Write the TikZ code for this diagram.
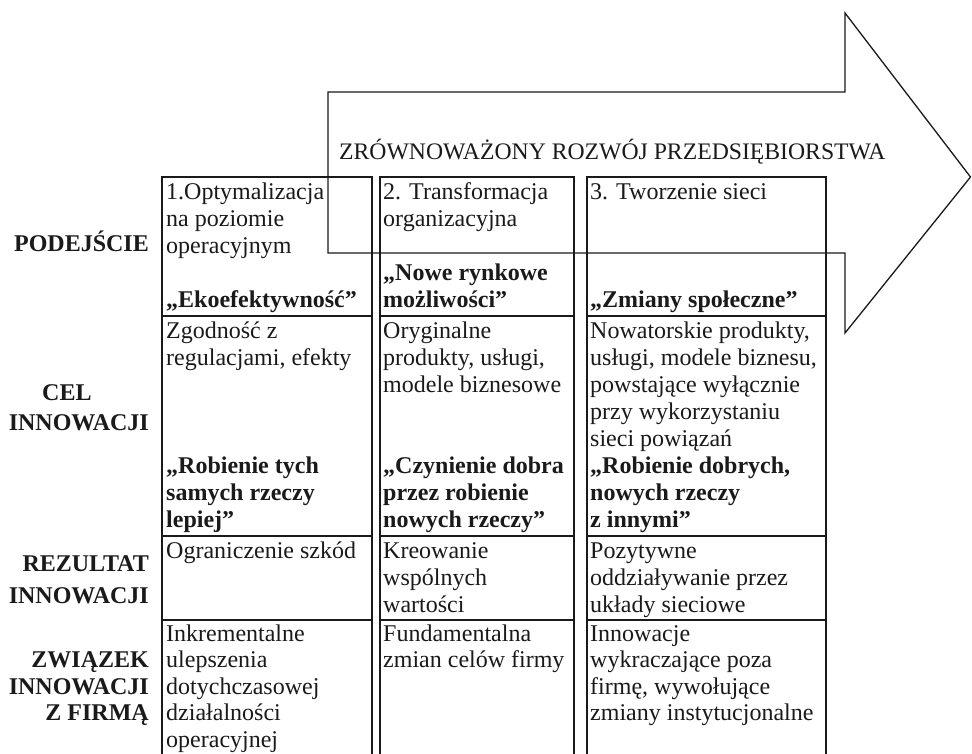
\documentclass[tikz,border=0pt]{standalone}
\usepackage{fontspec}
\setmainfont{Liberation Serif}
\newcommand{\bodyfnt}{\fontsize{24}{27}\selectfont}
\newcommand{\lastfnt}{\fontsize{24}{26.5}\selectfont}
\newcommand{\titlefnt}{\fontsize{23.7}{27}\selectfont}
\newcommand{\tstrut}{\rule{0pt}{24pt}}
\definecolor{ink}{HTML}{1A1A1A}
\begin{document}
\begin{tikzpicture}[x=1pt,y=-1pt,
  boxline/.style={line width=2.2pt, draw=ink},
  arrowline/.style={line width=1.3pt, draw=ink, line join=miter},
  cell/.style={anchor=north west, inner sep=0pt, align=left, font=\bodyfnt, text=ink},
  onecell/.style={anchor=base west, inner sep=0pt, font=\bodyfnt, text=ink},
  bcell/.style={cell, font=\bodyfnt\bfseries},
  bonecell/.style={onecell, font=\bodyfnt\bfseries},
  rowlabel/.style={anchor=base east, inner sep=0pt, font=\bodyfnt\bfseries, text=ink}]
\useasboundingbox (0,0) rectangle (972,753);
\fill[white] (0,0) rectangle (972,753);
% table columns
\foreach \xa/\xb in {162/372, 380/574, 587/826}{
  \draw[boxline] (\xa,770) -- (\xa,177) -- (\xb,177) -- (\xb,770);
  \draw[boxline] (\xa,316) -- (\xb,316);
  \draw[boxline] (\xa,536) -- (\xb,536);
  \draw[boxline] (\xa,620) -- (\xb,620);
}
% arrow
\draw[arrowline] (328,253) -- (328,92) -- (845,92) -- (845,13) -- (970.5,177) -- (845,333) -- (845,253) -- cycle;
\node[anchor=base west, inner sep=0pt, font=\titlefnt, text=ink] (title) at (339,159.3) {ZRÓWNOWAŻONY ROZWÓJ PRZEDSIĘBIORSTWA};
% row labels
\node[rowlabel] (l1) at (149,251) {PODEJŚCIE};
\node[anchor=base west, inner sep=0pt, font=\bodyfnt\bfseries, text=ink] (l2a) at (42,400) {CEL};
\node[rowlabel] (l2b) at (149,430) {INNOWACJI};
\node[rowlabel] (l3a) at (149,571) {REZULTAT};
\node[rowlabel] (l3b) at (149,603) {INNOWACJI};
\node[rowlabel] (l4a) at (149,667.5) {ZWIĄZEK};
\node[rowlabel] (l4b) at (149,694) {INNOWACJI};
\node[rowlabel] (l4c) at (149,720.5) {Z FIRMĄ};
% column 1
\node[cell] (c11) at (166,175.5) {\tstrut 1.Optymalizacja\\na poziomie\\operacyjnym};
\node[bonecell] (c11b) at (166,307.5) {„Ekoefektywność”};
\node[cell] (c12) at (166,314.5) {\tstrut Zgodność z\\regulacjami, efekty};
\node[bcell] (c12b) at (166,449.5) {\tstrut „Robienie tych\\samych rzeczy\\lepiej”};
\node[onecell] (c13) at (166,558.5) {Ograniczenie szkód};
\node[cell, font=\lastfnt] (c14) at (166,617) {\tstrut Inkrementalne\\ulepszenia\\dotychczasowej\\działalności\\operacyjnej};
% column 2
\node[cell] (c21) at (383,175.5) {\tstrut 2. Transformacja\\organizacyjna};
\node[bcell] (c21b) at (383,256.5) {\tstrut „Nowe rynkowe\\możliwości”};
\node[cell] (c22) at (383,314.5) {\tstrut Oryginalne\\produkty, usługi,\\modele biznesowe};
\node[bcell] (c22b) at (383,449.5) {\tstrut „Czynienie dobra\\przez robienie\\nowych rzeczy”};
\node[cell] (c23) at (383,534.5) {\tstrut Kreowanie\\wspólnych\\wartości};
\node[cell, font=\lastfnt] (c24) at (383,617) {\tstrut Fundamentalna\\zmian celów firmy};
% column 3
\node[onecell] (c31) at (590,199.5) {3. Tworzenie sieci};
\node[bonecell] (c31b) at (590,307.5) {„Zmiany społeczne”};
\node[cell] (c32) at (590,314.5) {\tstrut Nowatorskie produkty,\\usługi, modele biznesu,\\powstające wyłącznie\\przy wykorzystaniu\\sieci powiązań};
\node[bcell] (c32b) at (590,449.5) {\tstrut „Robienie dobrych,\\nowych rzeczy\\z innymi”};
\node[cell] (c33) at (590,534.5) {\tstrut Pozytywne\\oddziaływanie przez\\układy sieciowe};
\node[cell, font=\lastfnt] (c34) at (590,617) {\tstrut Innowacje\\wykraczające poza\\firmę, wywołujące\\zmiany instytucjonalne};
\end{tikzpicture}
\end{document}
